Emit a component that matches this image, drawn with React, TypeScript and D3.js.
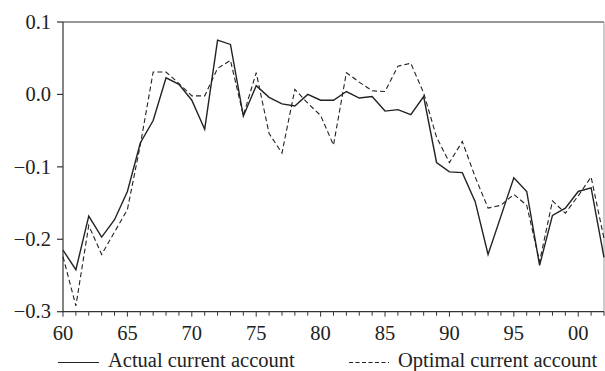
import React from "react";
import * as d3 from "d3";

const years: number[] = d3.range(1960, 2003);
const actual: number[] = [
  -0.215, -0.242, -0.168, -0.197, -0.173, -0.134, -0.067, -0.036, 0.023, 0.014,
  -0.008, -0.048, 0.075, 0.069, -0.030, 0.012, -0.004, -0.013, -0.016, 0.000,
  -0.008, -0.008, 0.004, -0.005, -0.003, -0.023, -0.021, -0.028, -0.003, -0.094,
  -0.107, -0.108, -0.148, -0.221, -0.168, -0.115, -0.134, -0.236, -0.167, -0.157,
  -0.134, -0.129, -0.225,
];
const optimal: number[] = [
  -0.224, -0.292, -0.181, -0.221, -0.190, -0.159, -0.070, 0.031, 0.031, 0.015,
  -0.002, -0.002, 0.036, 0.047, -0.029, 0.030, -0.054, -0.081, 0.007, -0.012,
  -0.029, -0.070, 0.030, 0.017, 0.005, 0.004, 0.039, 0.043, 0.002, -0.059,
  -0.094, -0.065, -0.114, -0.157, -0.153, -0.138, -0.153, -0.231, -0.147, -0.164,
  -0.140, -0.114, -0.199,
];
const yTicks: number[] = [0.1, 0.0, -0.1, -0.2, -0.3];
const xMajorTicks: number[] = [1960, 1965, 1970, 1975, 1980, 1985, 1990, 1995, 2000];
const legendLabels: string[] = ["Actual current account", "Optimal current account"];

const W = 605;
const H = 371;

export default function App() {
  const x = d3.scaleLinear().domain([1960, 2002]).range([63, 604]);
  const y = d3.scaleLinear().domain([-0.3, 0.1]).range([311.7, 22]);
  const line = d3
    .line<number>()
    .x((_, i) => x(years[i]))
    .y((d) => y(d));

  const fmtY = (v: number) => (v < 0 ? "\u2212" + Math.abs(v).toFixed(1) : v.toFixed(1));
  const fmtX = (v: number) => String(v % 100).padStart(2, "0");
  const txt: React.CSSProperties = { fontFamily: '"Liberation Serif"', fontSize: 20.5, fill: "#222" };

  return (
    <div style={{ position: "fixed", left: 0, top: 0 }}>
      <svg width={W} height={H} style={{ display: "block", background: "#fff" }}>
        {/* frame */}
        <line x1={x(1960)} x2={x(2002)} y1={y(0.1)} y2={y(0.1)} stroke="#333" strokeWidth={1.2} />
        <line x1={x(2002)} x2={x(2002)} y1={y(0.1)} y2={y(-0.3)} stroke="#999" strokeWidth={1} />
        <line x1={x(1960)} x2={x(1960)} y1={y(0.1)} y2={y(-0.3)} stroke="#333" strokeWidth={1.2} />
        <line x1={x(1960)} x2={x(2002)} y1={y(-0.3)} y2={y(-0.3)} stroke="#333" strokeWidth={1.2} />
        {/* y ticks */}
        {yTicks.map((t) => (
          <g key={t}>
            <line x1={x(1960) - 6} x2={x(1960)} y1={y(t)} y2={y(t)} stroke="#333" strokeWidth={1.2} />
            <text x={51} y={y(t)} dy="0.33em" textAnchor="end" style={txt}>
              {fmtY(t)}
            </text>
          </g>
        ))}
        {/* x ticks */}
        {years.map((yr) => (
          <line
            key={yr}
            x1={x(yr)}
            x2={x(yr)}
            y1={y(-0.3)}
            y2={y(-0.3) + (yr % 5 === 0 ? 5 : 4)}
            stroke="#333"
            strokeWidth={1}
          />
        ))}
        {xMajorTicks.map((t) => (
          <text key={t} x={x(t)} y={339.5} textAnchor="middle" style={txt}>
            {fmtX(t)}
          </text>
        ))}
        {/* series */}
        <path d={line(optimal) || ""} fill="none" stroke="#222" strokeWidth={1.1} strokeDasharray="5,3" />
        <path d={line(actual) || ""} fill="none" stroke="#222" strokeWidth={1.4} />
        {/* legend */}
        <line x1={58} x2={99} y1={362.5} y2={362.5} stroke="#222" strokeWidth={1.2} />
        <text x={108} y={366.5} style={txt}>
          {legendLabels[0]}
        </text>
        <line x1={349} x2={389} y1={362.5} y2={362.5} stroke="#222" strokeWidth={1.1} strokeDasharray="4,2.5" />
        <text x={398} y={366.5} style={txt}>
          {legendLabels[1]}
        </text>
      </svg>
    </div>
  );
}
